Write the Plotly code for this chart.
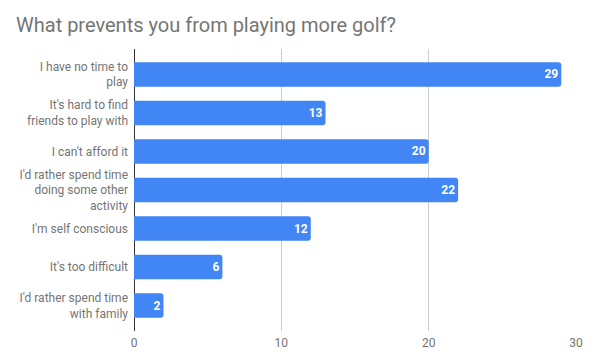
import plotly.graph_objects as go

categories = [
    "I have no time to<br>play",
    "It's hard to find<br>friends to play with",
    "I can't afford it",
    "I'd rather spend time<br>doing some other<br>activity",
    "I'm self conscious",
    "It's too difficult",
    "I'd rather spend time<br>with family",
]
values = [29, 13, 20, 22, 12, 6, 2]
x_ticks = [0, 10, 20, 30]
title = "What prevents you from playing more golf?"

fig = go.Figure(go.Bar(
    x=values, y=categories, orientation="h",
    marker=dict(color="#4285F4", cornerradius=3, line=dict(width=0)),
    text=[str(v) for v in values], textposition="inside", insidetextanchor="end",
    textfont=dict(family="Roboto", size=12, color="white", weight="bold"),
    hoverinfo="skip",
))

fig.update_layout(
    width=595, height=364,
    margin=dict(l=134, r=17, t=49, b=33),
    paper_bgcolor="white", plot_bgcolor="white",
    title=dict(text=title, x=16/595, xanchor="left", y=1-25/364, yanchor="middle",
               font=dict(family="Roboto", size=20, color="#757575")),
    bargap=0.366,
    showlegend=False,
    font=dict(family="Roboto", color="#757575"),
)
fig.update_xaxes(range=[0, 30], tickvals=x_ticks, showgrid=True, gridcolor="#cccccc", gridwidth=1,
                 zeroline=True, zerolinecolor="#333333", zerolinewidth=1,
                 tickfont=dict(family="Roboto", size=12, color="#757575"), ticks="", showline=False,
                 ticklabelstandoff=3)
fig.update_yaxes(categoryorder="array", categoryarray=categories, range=[6.66, -0.66],
                 tickfont=dict(family="Roboto", size=12, color="#757575"), ticks="",
                 ticklabelstandoff=5, showgrid=False)

fig.write_html("out.html", config={"displayModeBar": False},
               post_script="document.body.style.margin='0';")
